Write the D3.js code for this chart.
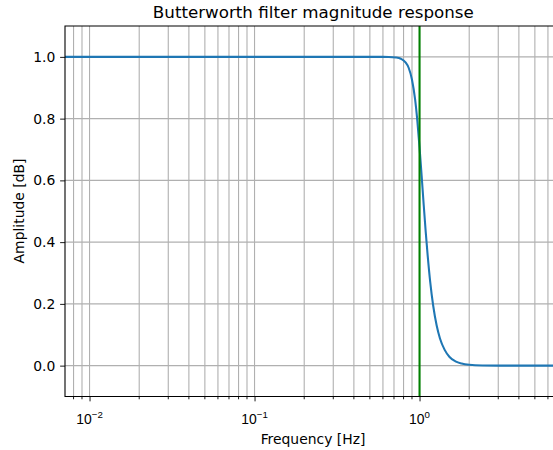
<!DOCTYPE html>
<html>
<head>
<meta charset="utf-8">
<script src="https://cdn.jsdelivr.net/npm/d3@7"></script>
<style>
  body { margin: 0; background: #fff; }
  svg { display: block; font-family: "DejaVu Sans", sans-serif; }
</style>
</head>
<body>
<svg id="rootSVG" width="553" height="450"></svg>
<script>
// values
const freq = [0.007, 0.1, 0.5, 0.6, 0.65, 0.72, 0.77, 0.82, 0.86, 0.9, 0.94, 0.97, 1.0, 1.03, 1.06, 1.09,
  1.12, 1.16, 1.21, 1.27, 1.33, 1.42, 1.52, 1.65, 1.8, 2.0, 2.4, 3.0, 8.0];
const amplitude = [1.0, 1.0, 1.0, 0.9999, 0.9997, 0.998, 0.994, 0.983, 0.964, 0.926, 0.862, 0.792, 0.707, 0.614, 0.52, 0.433,
  0.357, 0.272, 0.194, 0.13, 0.088, 0.051, 0.028, 0.014, 0.0068, 0.0028, 0.0005, 0.0, 0.0];
const cutoff = 1.0;
const yTicks = [0.0, 0.2, 0.4, 0.6, 0.8, 1.0];
const xDecades = [-3, -2, -1, 0, 1];
const xDomain = [0.0071, 7.2];
const yDomain = [-0.1, 1.1];

const svg = d3.select("#rootSVG");
const pLeft = 65, pRight = 561, pTop = 26, pBottom = 396.5;
const fs = 13.9; // 10pt

const x = d3.scaleLog().domain(xDomain).range([pLeft, pRight]);
const y = d3.scaleLinear().domain(yDomain).range([pBottom, pTop]);

svg.append("defs").append("clipPath").attr("id", "plotClip")
  .append("rect").attr("x", pLeft).attr("y", pTop).attr("width", pRight - pLeft).attr("height", pBottom - pTop);

// tick values for the log axis
const majorX = xDecades.map(d => Math.pow(10, d)).filter(v => v >= xDomain[0] && v <= xDomain[1]);
const minorX = [];
xDecades.forEach(d => {
  for (let k = 2; k <= 9; k++) {
    const v = k * Math.pow(10, d);
    if (v >= xDomain[0] && v <= xDomain[1]) minorX.push(v);
  }
});

// grid
const grid = svg.append("g").attr("stroke", "#b0b0b0").attr("stroke-width", 1.1);
grid.selectAll(".vgrid").data(majorX.concat(minorX)).enter().append("line")
  .attr("x1", d => x(d)).attr("x2", d => x(d)).attr("y1", pTop).attr("y2", pBottom);
grid.selectAll(".hgrid").data(yTicks).enter().append("line")
  .attr("x1", pLeft).attr("x2", pRight).attr("y1", d => y(d)).attr("y2", d => y(d));

// data
const g = svg.append("g").attr("clip-path", "url(#plotClip)");
const pts = freq.map((f, i) => [f, amplitude[i]]);
g.append("path")
  .datum(pts)
  .attr("fill", "none")
  .attr("stroke", "#1f77b4")
  .attr("stroke-width", 2.08)
  .attr("d", d3.line().x(d => x(d[0])).y(d => y(d[1])).curve(d3.curveMonotoneX));
g.append("line")
  .attr("x1", x(cutoff)).attr("x2", x(cutoff)).attr("y1", pTop).attr("y2", pBottom)
  .attr("stroke", "green").attr("stroke-width", 2.08);

// axes
const xAxis = svg.append("g").attr("transform", `translate(0,${pBottom})`);
xAxis.call(d3.axisBottom(x).tickValues(majorX).tickSize(4.86).tickFormat(""));
xAxis.call(g2 => g2.select(".domain").remove());
xAxis.selectAll(".minor").data(minorX).enter().append("line")
  .attr("x1", d => x(d)).attr("x2", d => x(d)).attr("y1", 0).attr("y2", 2.78)
  .attr("stroke", "#000").attr("stroke-width", 0.9);
const xl = xAxis.selectAll(".xlab").data(majorX).enter().append("text")
  .attr("x", d => x(d)).attr("y", 27).attr("text-anchor", "middle")
  .attr("font-size", fs).attr("fill", "#000");
xl.append("tspan").text("10");
xl.append("tspan").attr("dy", -6).attr("font-size", 9.7)
  .text(d => String(Math.round(Math.log10(d))).replace("-", "\u2212"));

const yAxis = svg.append("g").attr("transform", `translate(${pLeft},0)`);
yAxis.call(d3.axisLeft(y).tickValues(yTicks).tickSize(4.86).tickPadding(4.86).tickFormat(d3.format(".1f")));
yAxis.call(g2 => g2.select(".domain").remove());
yAxis.selectAll("text").attr("font-size", fs).attr("font-family", "DejaVu Sans, sans-serif").attr("fill", "#000");
svg.selectAll(".tick line").attr("stroke-width", 0.9);

// spines
svg.append("path")
  .attr("d", `M${pRight},${pTop}H${pLeft}V${pBottom}H${pRight}`)
  .attr("fill", "none").attr("stroke", "#000").attr("stroke-width", 1.1);

// labels
svg.append("text").attr("x", 313.3).attr("y", 18.3).attr("text-anchor", "middle")
  .attr("font-size", 16.7).text("Butterworth filter magnitude response");
svg.append("text").attr("x", 313).attr("y", 444).attr("text-anchor", "middle")
  .attr("font-size", fs).text("Frequency [Hz]");
svg.append("text").attr("transform", `translate(23.5,211) rotate(-90)`).attr("text-anchor", "middle")
  .attr("font-size", fs).text("Amplitude [dB]");
</script>
</body>
</html>
